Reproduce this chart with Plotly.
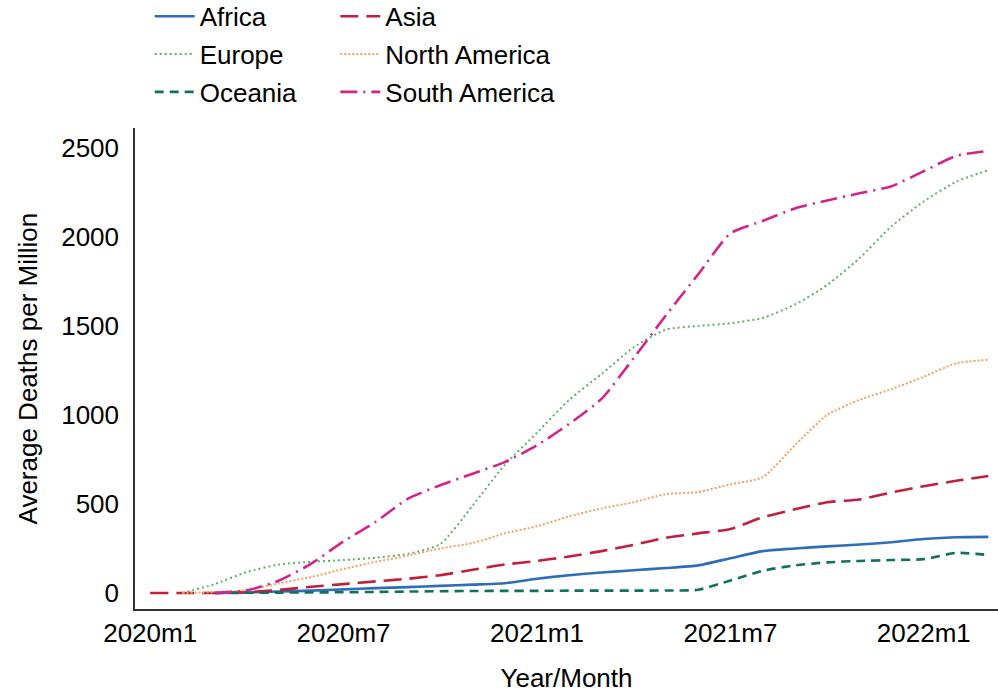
import plotly.graph_objects as go

# Monthly periods, 2020m1 .. 2022m3
months = [f"{y}m{m}" for y in (2020, 2021, 2022) for m in range(1, 13)][:27]
tick_labels = ["2020m1", "2020m7", "2021m1", "2021m7", "2022m1"]

# Average deaths per million by continent (None = no observation yet)
africa = [None, None, 0, 3, 8, 13, 20, 27, 33, 40, 47, 55, 80, 100, 115, 128, 140,
          155, 195, 235, 250, 262, 272, 285, 303, 313, 315]
asia = [0, 0, 0, 5, 17, 35, 50, 65, 80, 100, 130, 160, 180, 205, 235, 270, 310,
        335, 360, 425, 470, 510, 525, 565, 600, 630, 657]
europe = [None, 0, 50, 118, 160, 175, 185, 198, 220, 275, 490, 720, 900, 1085,
          1230, 1380, 1480, 1500, 1515, 1545, 1620, 1730, 1880, 2060, 2200, 2310, 2375]
north_america = [None, 0, 5, 17, 55, 90, 135, 175, 210, 250, 280, 335, 375, 430,
                 475, 510, 555, 567, 610, 650, 830, 1000, 1085, 1145, 1215, 1290, 1310]
oceania = [None, None, 0, 1, 2, 3, 4, 6, 8, 10, 11, 12, 12, 13, 13, 13, 14, 18,
           70, 125, 155, 172, 180, 185, 190, 225, 213]
south_america = [None, None, 0, 15, 70, 165, 290, 400, 530, 605, 670, 735, 830,
                 950, 1090, 1320, 1560, 1790, 2020, 2090, 2160, 2205, 2245, 2285,
                 2370, 2455, 2483]

series = [
    ("Africa", africa, "#2e6db8", "solid", 2.6, "legend"),
    ("Asia", asia, "#c01f3d", "18px,8px", 2.6, "legend2"),
    ("Europe", europe, "#5fae6c", "2px,3px", 2.0, "legend"),
    ("North America", north_america, "#f4a062", "2px,2px", 2.0, "legend2"),
    ("Oceania", oceania, "#11705f", "9px,6px", 2.6, "legend"),
    ("South America", south_america, "#d0268b", "17px,6px,2px,6px", 2.6, "legend2"),
]

fig = go.Figure()
for name, vals, color, dash, width, leg in series:
    fig.add_trace(go.Scatter(
        x=months, y=vals, name=name, mode="lines",
        line=dict(color=color, dash=dash, width=width, shape="spline", smoothing=0.6),
        connectgaps=False, legend=leg, legendgroup=name,
    ))

font = "Liberation Sans, Arial, sans-serif"
FS = 26
legend_common = dict(
    orientation="v", xref="container", yref="paper", yanchor="top",
    xanchor="left", font=dict(family=font, size=FS, color="#000"),
    bgcolor="rgba(0,0,0,0)", traceorder="grouped", tracegroupgap=1,
    itemwidth=40,
)

fig.update_layout(
    width=998, height=693,
    margin=dict(l=135, r=0, t=128, b=84, autoexpand=False),
    paper_bgcolor="white", plot_bgcolor="white",
    font=dict(family=font, size=FS, color="#000"),
    showlegend=True,
    legend=dict(x=0.150, y=1.281, **legend_common),
    legend2=dict(x=0.336, y=1.281, **legend_common),
    xaxis=dict(
        type="category", categoryorder="array", categoryarray=months,
        range=[-0.47, 26.3], tickmode="array", tickvals=tick_labels,
        ticktext=tick_labels, showgrid=False, zeroline=False,
        showline=True, linecolor="#333", linewidth=1.5, ticks="",
        ticklabelstandoff=0, tickangle=0,
        title=dict(text="Year/Month", standoff=22, font=dict(size=FS)),
        tickfont=dict(size=FS),
    ),
    yaxis=dict(
        range=[-90, 2612], tickvals=[0, 500, 1000, 1500, 2000, 2500],
        showgrid=False, zeroline=False, showline=True, linecolor="#333",
        linewidth=1.5, ticks="", ticklabelstandoff=9,
        tickfont=dict(size=FS),
    ),
    annotations=[dict(
        text="Average Deaths per Million", textangle=-90,
        xref="paper", yref="paper", x=-0.124, y=0.5,
        xanchor="center", yanchor="middle", showarrow=False,
        font=dict(family=font, size=FS, color="#000"),
    )],
)

fig.write_html("out.html")
